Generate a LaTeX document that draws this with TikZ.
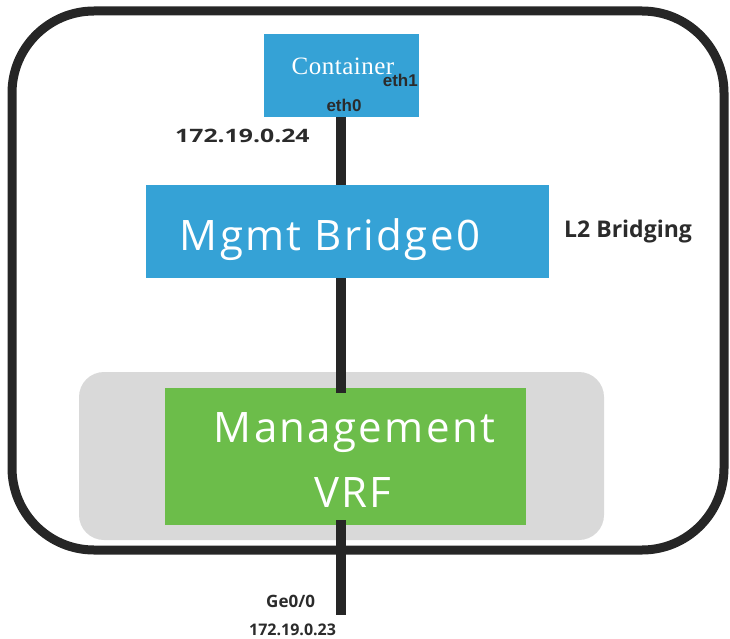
\documentclass[tikz,border=0pt]{standalone}
\usepackage{fontspec}
\setmainfont{Open Sans}
\newfontfamily\serifface[LetterSpace=2]{Liberation Serif}
\newfontfamily\arialface{Liberation Sans}
\newfontfamily\labelface{Open Sans}
\newfontfamily\boxface[LetterSpace=5.5]{Open Sans}
\definecolor{framegray}{HTML}{262626}
\definecolor{textgray}{HTML}{2B2B2B}
\definecolor{bridgeblue}{HTML}{35A2D6}
\definecolor{vrfgreen}{HTML}{6CBD4A}
\definecolor{zonegray}{HTML}{D9D9D9}
\tikzset{
  frame/.style={draw=framegray, line width=9pt, rounded corners=82pt},
  zone/.style={fill=zonegray, rounded corners=25pt},
  bluebox/.style={fill=bridgeblue, draw=none, inner sep=0pt},
  greenbox/.style={fill=vrfgreen, draw=none, inner sep=0pt},
  link/.style={draw=framegray, line width=10pt},
  ifname/.style={font=\arialface\bfseries\fontsize{17}{19}\selectfont, text=textgray, inner sep=0pt},
  tag/.style={font=\labelface\bfseries, text=textgray, inner sep=0pt},
  boxtext/.style={font=\boxface\fontsize{42}{65}\selectfont, text=white, inner sep=0pt, align=center}
}
\begin{document}
\begin{tikzpicture}[x=1pt, y=-1pt]
  \useasboundingbox (0,0) rectangle (730,639);

  % outer chassis outline
  \draw[frame] (12,11) rectangle (724,550);
  % grey zone holding the VRF
  \fill[zone] (79,372) rectangle (604,540);

  % boxes
  \node[bluebox, minimum width=155pt, minimum height=83pt] (container) at (341.5,75.5) {};
  \node[bluebox, minimum width=403pt, minimum height=93pt] (bridge) at (347.5,231.5) {};
  \node[greenbox, minimum width=361pt, minimum height=137pt] (vrf) at (345.5,456.5) {};

  % box captions
  \node[font=\serifface\fontsize{25}{28}\selectfont, text=white, inner sep=0pt, anchor=base] (ctext) at (343,75) {Container};
  \node[ifname, anchor=base east] (eth1) at (418,87) {eth1};
  \node[ifname, anchor=base] (eth0) at (344,112) {eth0};
  \node[boxtext, anchor=base] (btext) at (330,250) {Mgmt Bridge0};
  \node[boxtext, anchor=base] (vtext1) at (354.5,442) {Management};
  \node[boxtext, anchor=base] (vtext2) at (353,507) {VRF};

  % links
  \coordinate (uplink) at (341,393);
  \coordinate (downlink) at (341,520);
  \coordinate (wire) at (341,615);
  \draw[link] (container.south -| uplink) -- (bridge.north -| uplink);
  \draw[link] (bridge.south -| uplink) -- (uplink);
  \draw[link] (downlink) -- (wire);

  % address and role labels
  \node[tag, font=\labelface\bfseries\fontsize{18.5}{20}\selectfont, anchor=base west] (ipin) at (175,143)
    {\scalebox{1.34}[1]{172.19.0.24}};
  \node[tag, font=\labelface\bfseries\fontsize{23}{26}\selectfont, anchor=base west] (l2) at (564,237) {L2 Bridging};
  \node[tag, font=\labelface\bfseries\fontsize{17}{20}\selectfont, anchor=base west] (ge) at (266,607) {Ge0/0};
  \node[tag, font=\labelface\bfseries\fontsize{16}{18}\selectfont, anchor=base west] (ipout) at (249,635) {172.19.0.23};
\end{tikzpicture}
\end{document}
